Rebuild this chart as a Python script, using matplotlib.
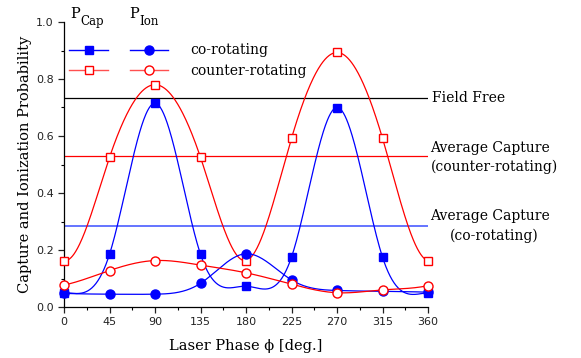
import numpy as np
import matplotlib
matplotlib.use("Agg")
import matplotlib.pyplot as plt
from matplotlib.lines import Line2D

phase = [0, 45, 90, 135, 180, 225, 270, 315, 360]
cap_co = [0.050, 0.185, 0.715, 0.185, 0.073, 0.175, 0.700, 0.175, 0.050]
cap_counter = [0.163, 0.525, 0.780, 0.525, 0.163, 0.592, 0.893, 0.592, 0.163]
ion_co = [0.048, 0.045, 0.045, 0.083, 0.187, 0.095, 0.058, 0.055, 0.052]
ion_counter = [0.077, 0.128, 0.163, 0.147, 0.120, 0.080, 0.050, 0.060, 0.075]
field_free = 0.733
avg_cap_counter = 0.530
avg_cap_co = 0.285


def natural_spline(x, y, xs):
    x = np.asarray(x, float); y = np.asarray(y, float)
    n = len(x)
    h = np.diff(x)
    A = np.zeros((n, n)); b = np.zeros(n)
    A[0, 0] = 1; A[-1, -1] = 1
    for i in range(1, n - 1):
        A[i, i - 1] = h[i - 1]
        A[i, i] = 2 * (h[i - 1] + h[i])
        A[i, i + 1] = h[i]
        b[i] = 3 * ((y[i + 1] - y[i]) / h[i] - (y[i] - y[i - 1]) / h[i - 1])
    c = np.linalg.solve(A, b)
    out = np.empty_like(xs, dtype=float)
    for k, xv in enumerate(xs):
        i = min(max(np.searchsorted(x, xv) - 1, 0), n - 2)
        dx = xv - x[i]
        bi = (y[i + 1] - y[i]) / h[i] - h[i] * (2 * c[i] + c[i + 1]) / 3
        di = (c[i + 1] - c[i]) / (3 * h[i])
        out[k] = y[i] + bi * dx + c[i] * dx ** 2 + di * dx ** 3
    return out


def phase_spline(x, y, xs, wrap=3):
    # phase is periodic: extend the data by wrapping around before fitting
    x = list(x); y = list(y)
    period = x[-1] - x[0]
    xe = [xv - period for xv in x[-1 - wrap:-1]] + x + [xv + period for xv in x[1:1 + wrap]]
    ye = y[-1 - wrap:-1] + y + y[1:1 + wrap]
    return natural_spline(xe, ye, xs)


serif = "DejaVu Serif"
fig = plt.figure(figsize=(5.81, 3.58), dpi=100)
ax = fig.add_axes([64 / 581, 1 - 307 / 358, 364 / 581, 285 / 358])

xs = np.linspace(0, 360, 721)
blue = "#0000ff"
red = "#ff0000"
series = [
    (cap_co, blue, "s", blue),
    (cap_counter, red, "s", "white"),
    (ion_co, blue, "o", blue),
    (ion_counter, red, "o", "white"),
]
for ys, col, mk, fc in series:
    ax.plot(xs, phase_spline(phase, ys, xs), color=col, lw=0.9, zorder=2)
    ax.plot(phase, ys, ls="none", marker=mk, ms=6.5 if mk == "o" else 5.8,
            mfc=fc, mec=col, mew=1.0, zorder=3, clip_on=False)

ax.axhline(field_free, color="black", lw=0.9, zorder=1)
ax.axhline(avg_cap_counter, color=red, lw=0.9, zorder=1)
ax.axhline(avg_cap_co, color="#4a5cff", lw=1.2, zorder=1)

ax.set_xlim(0, 360)
ax.set_ylim(0, 1.0)
ax.set_xticks(phase)
ax.set_xticks(np.arange(0, 361, 22.5), minor=True)
ax.set_yticks([0.0, 0.2, 0.4, 0.6, 0.8, 1.0])
ax.set_yticklabels(["0.0", "0.2", "0.4", "0.6", "0.8", "1.0"])
ax.set_yticks(np.arange(0, 1.01, 0.1), minor=True)
for s in ["top", "right"]:
    ax.spines[s].set_visible(False)
ax.spines["left"].set_linewidth(0.9)
ax.spines["bottom"].set_linewidth(0.9)
ax.tick_params(which="major", direction="out", length=4, width=0.9, labelsize=8, colors="#222222")
ax.tick_params(which="minor", direction="out", length=2.5, width=0.8)

ax.set_xlabel("Laser Phase \u03d5 [deg.]", fontfamily=serif, fontsize=10.5, labelpad=8)
ax.set_ylabel("Capture and Ionization Probability", fontfamily=serif, fontsize=10.5, labelpad=3)

handles = [
    Line2D([], [], color=blue, marker="s", mfc=blue, mec=blue, ms=5.8, lw=1),
    Line2D([], [], color="#ff5050", marker="s", mfc="white", mec=red, ms=5.8, lw=1),
    Line2D([], [], color=blue, marker="o", mfc=blue, mec=blue, ms=6.5, lw=1),
    Line2D([], [], color="#ff5050", marker="o", mfc="white", mec=red, ms=6.5, lw=1),
]
labels = ["", "", "co-rotating", "counter-rotating"]
ax.legend(handles, labels, ncol=2, loc="upper left", bbox_to_anchor=(0.014, 0.925),
          frameon=False, borderpad=0, borderaxespad=0, handlelength=2.8,
          handletextpad=1.55, columnspacing=0.0, labelspacing=0.45,
          prop={"family": serif, "size": 10})

ax.text(6, 1.028, "P", fontfamily=serif, fontsize=10.5, clip_on=False, va="center")
ax.text(16, 1.003, "Cap", fontfamily=serif, fontsize=8.5, clip_on=False, va="center")
ax.text(65, 1.028, "P", fontfamily=serif, fontsize=10.5, clip_on=False, va="center")
ax.text(75, 1.003, "Ion", fontfamily=serif, fontsize=8.5, clip_on=False, va="center")

ax.text(364, field_free, "Field Free", fontfamily=serif, fontsize=10, va="center", ha="left", clip_on=False)
ax.text(362, 0.558, "Average Capture", fontfamily=serif, fontsize=10,
        va="center", ha="left", clip_on=False)
ax.text(363, 0.491, "(counter-rotating)", fontfamily=serif, fontsize=10,
        va="center", ha="left", clip_on=False)
ax.text(362, 0.319, "Average Capture", fontfamily=serif, fontsize=10,
        va="center", ha="left", clip_on=False)
ax.text(426, 0.249, "(co-rotating)", fontfamily=serif, fontsize=10,
        va="center", ha="center", clip_on=False)

fig.savefig("out.png", dpi=100)
